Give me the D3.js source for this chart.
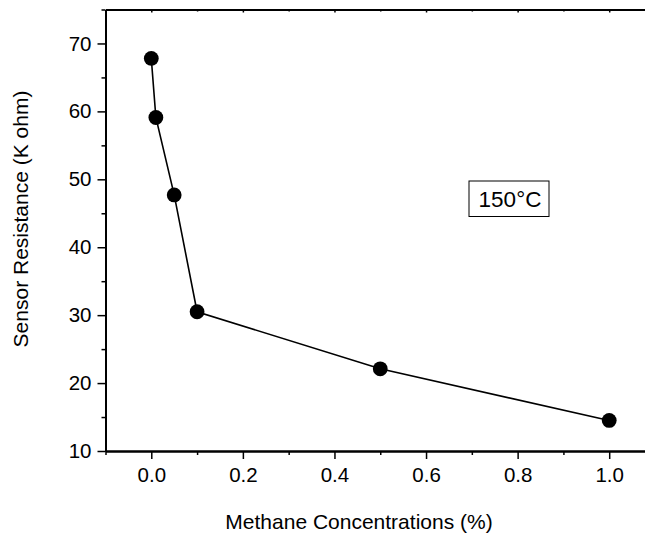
<!DOCTYPE html>
<html><head><meta charset="utf-8">
<script src="https://cdn.jsdelivr.net/npm/d3@7"></script>
<style>body{margin:0;background:#fff}svg{display:block}text{font-family:Arial,"Liberation Sans",sans-serif;fill:#000}</style>
</head><body>
<svg id="c" width="645" height="536"></svg>
<script>
const concentrations = [0, 0.01, 0.05, 0.1, 0.5, 1.0];
const resistance = [67.8, 59.1, 47.7, 30.5, 22.1, 14.5];
const xTicks = [0.0, 0.2, 0.4, 0.6, 0.8, 1.0];
const yTicks = [10, 20, 30, 40, 50, 60, 70];
const annotation = "150°C";

const svg = d3.select("#c");
const L = 105.5, R = 655, T = 9.5, B = 451;
const x = d3.scaleLinear().domain([-0.1, 1.1]).range([L, R]);
const y = d3.scaleLinear().domain([10, 75]).range([B, T]);

const fmt = d3.format(".1f");
// bottom axis
svg.append("g").attr("transform", `translate(0,${B})`)
  .call(d3.axisBottom(x).tickValues(xTicks).tickFormat(fmt).tickSize(8).tickSizeOuter(0).tickPadding(8));
svg.append("g").attr("transform", `translate(0,${B})`)
  .call(d3.axisBottom(x).tickValues([-0.1, 0.1, 0.3, 0.5, 0.7, 0.9, 1.1]).tickFormat("").tickSize(4).tickSizeOuter(0));
// top axis
svg.append("g").attr("transform", `translate(0,${T})`)
  .call(d3.axisBottom(x).tickValues(xTicks).tickFormat("").tickSize(3).tickSizeOuter(0));
svg.append("g").attr("transform", `translate(0,${T})`)
  .call(d3.axisBottom(x).tickValues([0.1, 0.3, 0.5, 0.7, 0.9]).tickFormat("").tickSize(2).tickSizeOuter(0));
// left axis
svg.append("g").attr("transform", `translate(${L},0)`)
  .call(d3.axisLeft(y).tickValues(yTicks).tickSize(8).tickSizeOuter(0).tickPadding(6));
svg.append("g").attr("transform", `translate(${L},0)`)
  .call(d3.axisLeft(y).tickValues([15, 25, 35, 45, 55, 65, 75]).tickFormat("").tickSize(4).tickSizeOuter(0));

svg.selectAll(".domain").attr("stroke", "#000").attr("stroke-width", 2);
svg.selectAll(".tick line").attr("stroke", "#000").attr("stroke-width", 1.5);
svg.selectAll(".tick text").attr("font-size", 20.5).attr("font-family", "Arial, 'Liberation Sans', sans-serif").attr("fill", "#000");

// series
const pts = concentrations.map((c, i) => [c, resistance[i]]);
svg.append("path").datum(pts)
  .attr("fill", "none").attr("stroke", "#000").attr("stroke-width", 1.6)
  .attr("d", d3.line().x(d => x(d[0])).y(d => y(d[1])));
svg.selectAll("circle.pt").data(pts).enter().append("circle")
  .attr("cx", d => x(d[0])).attr("cy", d => y(d[1])).attr("r", 7.4).attr("fill", "#000");

// annotation box
svg.append("rect").attr("x", 469).attr("y", 181).attr("width", 80).attr("height", 35.5)
  .attr("fill", "#fff").attr("stroke", "#000").attr("stroke-width", 1);
svg.append("text").attr("x", 510).attr("y", 207).attr("text-anchor", "middle")
  .attr("font-size", 22.5).text(annotation);

// axis labels
svg.append("text").attr("x", 359).attr("y", 529).attr("text-anchor", "middle")
  .attr("font-size", 21).text("Methane Concentrations (%)");
svg.append("text").attr("transform", "translate(28,219) rotate(-90)").attr("text-anchor", "middle")
  .attr("font-size", 21).text("Sensor Resistance (K ohm)");
</script>
</body></html>
